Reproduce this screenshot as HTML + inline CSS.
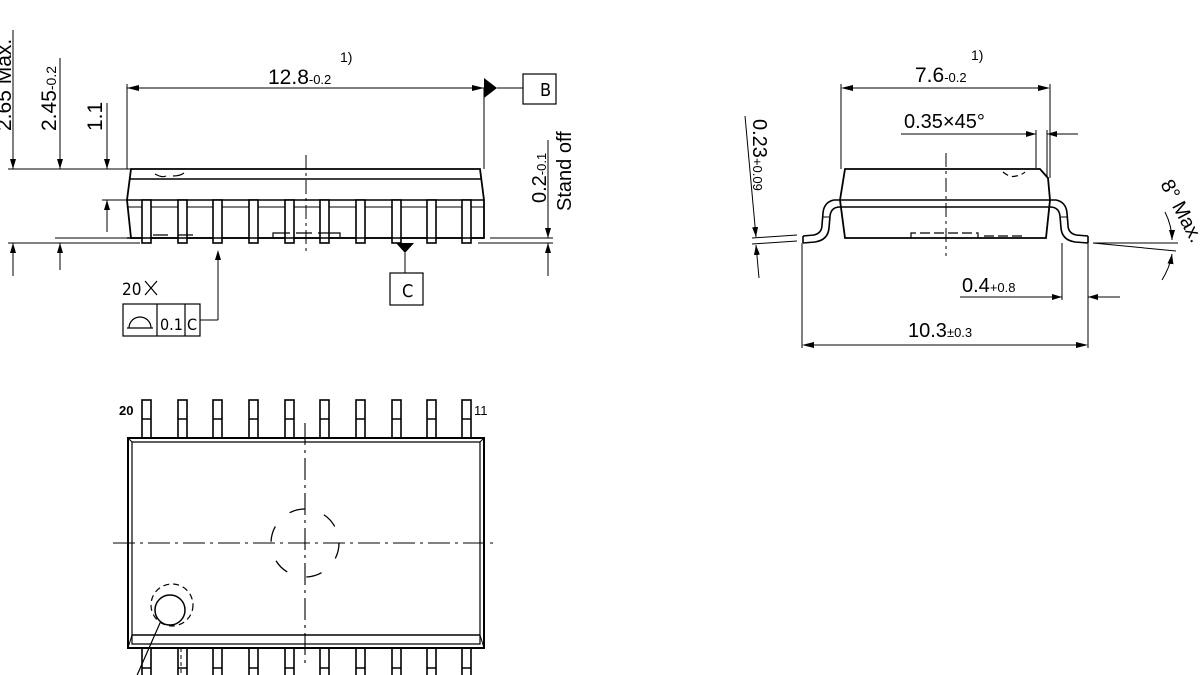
<!DOCTYPE html>
<html><head><meta charset="utf-8"><style>
html,body{margin:0;padding:0;background:#fff;}
svg{display:block;}
text{font-family:"Liberation Sans",Arial,sans-serif;fill:#000;}
.n{font-family:"DejaVu Sans Condensed","Liberation Sans Narrow","Liberation Sans",sans-serif;}
</style></head><body>
<svg width="1200" height="675" viewBox="0 0 1200 675" xmlns="http://www.w3.org/2000/svg">
<defs>
<marker id="a" viewBox="0 0 10 6" refX="10" refY="3" markerWidth="10" markerHeight="6" markerUnits="userSpaceOnUse" orient="auto"><path d="M0,0 L10,3 L0,6 Z" fill="#000"/></marker>
</defs>
<g stroke="#000" stroke-width="1.3" fill="none">
<!-- ===== LEFT SIDE VIEW ===== -->
<path d="M131,169 L480,169 L484,200 L484,238 L131,238 L127,200 Z" stroke-width="1.8"/>
<line x1="129" y1="179" x2="482" y2="179" stroke-width="1.6"/>
<line x1="127" y1="200" x2="484" y2="200" stroke-width="1.6"/>
<line x1="127" y1="207" x2="484" y2="207" stroke-width="1"/>
<g stroke-width="1.6">
<rect x="142" y="200" width="9" height="43" fill="#fff"/>
<rect x="178" y="200" width="9" height="43" fill="#fff"/>
<rect x="213" y="200" width="9" height="43" fill="#fff"/>
<rect x="249" y="200" width="9" height="43" fill="#fff"/>
<rect x="285" y="200" width="9" height="43" fill="#fff"/>
<rect x="320" y="200" width="9" height="43" fill="#fff"/>
<rect x="356" y="200" width="9" height="43" fill="#fff"/>
<rect x="392" y="200" width="9" height="43" fill="#fff"/>
<rect x="427" y="200" width="9" height="43" fill="#fff"/>
<rect x="462" y="200" width="9" height="43" fill="#fff"/>
</g>
<line x1="127" y1="238" x2="484" y2="238" stroke-width="1.6"/>
<path d="M153,235 H168 M178,235 H193 M273,237 V233 H290 M296,233 H312 M318,233 H340 V237" stroke-width="1.2"/>
<path d="M155,174 Q162,178 166,176 M173,176 Q180,176 184,173" stroke-width="1.2"/>
<line x1="306" y1="155" x2="306" y2="252" stroke-width="1" stroke-dasharray="14,4,3,4"/>
<!-- 12.8 dim -->
<line x1="127" y1="84" x2="127" y2="169" stroke-width="1"/>
<line x1="484" y1="88" x2="484" y2="169" stroke-width="1"/>
<line x1="127" y1="88" x2="484" y2="88" stroke-width="1"/>
<path d="M127,88 l12,-3 v6 z M484,88 l-12,-3 v6 z" fill="#000" stroke="none"/>
<path d="M484,78 L497,88 L484,98 Z" fill="#000" stroke="none"/>
<line x1="497" y1="88" x2="523" y2="88" stroke-width="1"/>
<rect x="523" y="74" width="33" height="30" stroke-width="1.2"/>
<!-- left dims -->
<line x1="8" y1="169" x2="130" y2="169" stroke-width="1"/>
<line x1="8" y1="243" x2="140" y2="243" stroke-width="1"/>
<line x1="55" y1="238" x2="135" y2="238" stroke-width="1"/>
<line x1="102" y1="200" x2="127" y2="200" stroke-width="1"/>
<line x1="13" y1="30" x2="13" y2="169" stroke-width="1" marker-end="url(#a)"/>
<line x1="13" y1="276" x2="13" y2="243" stroke-width="1" marker-end="url(#a)"/>
<line x1="60" y1="58" x2="60" y2="169" stroke-width="1" marker-end="url(#a)"/>
<line x1="60" y1="270" x2="60" y2="243" stroke-width="1" marker-end="url(#a)"/>
<line x1="107" y1="103" x2="107" y2="169" stroke-width="1" marker-end="url(#a)"/>
<line x1="107" y1="232" x2="107" y2="200" stroke-width="1" marker-end="url(#a)"/>
<!-- stand off -->
<line x1="490" y1="238" x2="553" y2="238" stroke-width="1"/>
<line x1="478" y1="243" x2="553" y2="243" stroke-width="1"/>
<line x1="548" y1="140" x2="548" y2="238" stroke-width="1" marker-end="url(#a)"/>
<line x1="548" y1="276" x2="548" y2="243" stroke-width="1" marker-end="url(#a)"/>
<!-- datum C -->
<path d="M396,243 L414,243 L405,253 Z" fill="#000" stroke="none"/>
<line x1="405" y1="253" x2="405" y2="273" stroke-width="1"/>
<rect x="390" y="273" width="33" height="32" stroke-width="1.2"/>
<!-- FCF -->
<line x1="218" y1="252" x2="218" y2="320" stroke-width="1"/>
<path d="M218,250 l-3,10 h6 z" fill="#000" stroke="none"/>
<line x1="200" y1="320" x2="218" y2="320" stroke-width="1"/>
<rect x="123" y="304" width="77" height="32" stroke-width="1.2"/>
<line x1="157" y1="304" x2="157" y2="336" stroke-width="1.2"/>
<line x1="185" y1="304" x2="185" y2="336" stroke-width="1.2"/>
<path d="M127,328 H153 M129,328 A11,11 0 0 1 151,328" stroke-width="1.2"/>
<path d="M145,281 L157,295 M157,281 L145,295" stroke-width="1.2"/>

<!-- ===== RIGHT END VIEW ===== -->
<path d="M845,169 L1040,169 L1048,178 L1050,200 L1046,238 L845,238 L840,200 Z" stroke-width="1.8"/>
<path d="M803,236 L814,235 Q822,233 822,225 L823,213 Q824,202 834,200 L1056,200 Q1066,202 1067,213 L1068,225 Q1068,233 1076,235 L1088,236" stroke-width="1.6"/>
<path d="M803,243 L815,242 Q828,240 829,228 L830,216 Q831,207 840,207 L1050,207 Q1059,207 1060,216 L1061,228 Q1062,240 1075,242 L1088,243" stroke-width="1.6"/>
<line x1="803" y1="236" x2="803" y2="243" stroke-width="1.6"/>
<line x1="1088" y1="236" x2="1088" y2="243" stroke-width="1.6"/>
<line x1="822" y1="217" x2="829" y2="217" stroke-width="1"/>
<line x1="1061" y1="217" x2="1068" y2="217" stroke-width="1"/>
<path d="M911,238 V233 H978 V238 M984,236 H1026" stroke-width="1.2" stroke-dasharray="10,4"/>
<path d="M1003,172 Q1010,178 1016,176 Q1022,175 1025,172" stroke-width="1.2" stroke-dasharray="6,4"/>
<line x1="946" y1="153" x2="946" y2="256" stroke-width="1" stroke-dasharray="14,4,3,4"/>
<!-- 7.6 -->
<line x1="841" y1="84" x2="841" y2="169" stroke-width="1"/>
<line x1="1050" y1="84" x2="1050" y2="178" stroke-width="1"/>
<line x1="853" y1="88" x2="1038" y2="88" stroke-width="1"/>
<path d="M841,88 l12,-3 v6 z M1050,88 l-12,-3 v6 z" fill="#000" stroke="none"/>
<!-- 0.35x45 -->
<line x1="1036" y1="130" x2="1036" y2="168" stroke-width="1"/>
<line x1="1047" y1="130" x2="1047" y2="176" stroke-width="1"/>
<line x1="901" y1="134" x2="1036" y2="134" stroke-width="1" marker-end="url(#a)"/>
<line x1="1078" y1="134" x2="1047" y2="134" stroke-width="1" marker-end="url(#a)"/>
<!-- 0.23 -->
<line x1="752" y1="238" x2="797" y2="235" stroke-width="1"/>
<line x1="752" y1="244" x2="797" y2="241" stroke-width="1"/>
<line x1="745" y1="116" x2="756" y2="237" stroke-width="1" marker-end="url(#a)"/>
<line x1="759" y1="278" x2="756" y2="245" stroke-width="1" marker-end="url(#a)"/>
<!-- 8 deg -->
<line x1="1093" y1="243" x2="1178" y2="243" stroke-width="1"/>
<line x1="1093" y1="243" x2="1176" y2="251" stroke-width="1"/>
<path d="M1165,212 Q1172,226 1172,240" stroke-width="1" marker-end="url(#a)"/>
<path d="M1162,280 Q1170,267 1172,254" stroke-width="1" marker-end="url(#a)"/>
<!-- 0.4 -->
<line x1="1062" y1="243" x2="1062" y2="300" stroke-width="1"/>
<line x1="1088" y1="243" x2="1088" y2="348" stroke-width="1"/>
<line x1="960" y1="297" x2="1062" y2="297" stroke-width="1" marker-end="url(#a)"/>
<line x1="1120" y1="297" x2="1088" y2="297" stroke-width="1" marker-end="url(#a)"/>
<!-- 10.3 -->
<line x1="802" y1="243" x2="802" y2="348" stroke-width="1"/>
<line x1="814" y1="345" x2="1076" y2="345" stroke-width="1"/>
<path d="M802,345 l12,-3 v6 z M1088,345 l-12,-3 v6 z" fill="#000" stroke="none"/>

<!-- ===== BOTTOM VIEW ===== -->
<g stroke-width="1.6" fill="#fff">
<rect x="142" y="400" width="9" height="38"/><rect x="178" y="400" width="9" height="38"/><rect x="213" y="400" width="9" height="38"/><rect x="249" y="400" width="9" height="38"/><rect x="285" y="400" width="9" height="38"/><rect x="320" y="400" width="9" height="38"/><rect x="356" y="400" width="9" height="38"/><rect x="392" y="400" width="9" height="38"/><rect x="427" y="400" width="9" height="38"/><rect x="462" y="400" width="9" height="38"/>
<rect x="142" y="648" width="9" height="40"/><rect x="178" y="648" width="9" height="40"/><rect x="213" y="648" width="9" height="40"/><rect x="249" y="648" width="9" height="40"/><rect x="285" y="648" width="9" height="40"/><rect x="320" y="648" width="9" height="40"/><rect x="356" y="648" width="9" height="40"/><rect x="392" y="648" width="9" height="40"/><rect x="427" y="648" width="9" height="40"/><rect x="462" y="648" width="9" height="40"/>
</g>
<path d="M142,419h9M178,419h9M213,419h9M249,419h9M285,419h9M320,419h9M356,419h9M392,419h9M427,419h9M462,419h9 M142,668h9M178,668h9M213,668h9M249,668h9M285,668h9M320,668h9M356,668h9M392,668h9M427,668h9M462,668h9" stroke-width="1.4"/>
<rect x="128" y="438" width="356" height="210" stroke-width="2"/>
<path d="M132,442 H480 V644 H132 Z" stroke-width="1.2"/>
<line x1="132" y1="635" x2="480" y2="635" stroke-width="1.6"/>
<path d="M128,438 L132,442 M484,438 L480,442 M128,648 L132,635 M484,648 L480,635" stroke-width="1"/>
<line x1="113" y1="543" x2="498" y2="543" stroke-width="1.1" stroke-dasharray="22,5,3,5"/>
<line x1="305" y1="423" x2="305" y2="663" stroke-width="1.1" stroke-dasharray="22,5,3,5"/>
<circle cx="305" cy="543" r="34" stroke-width="1.3" stroke-dasharray="16,20"/>
<circle cx="170" cy="610" r="15" stroke-width="1.5"/>
<circle cx="172" cy="605" r="21" stroke-width="1.2" stroke-dasharray="6,4"/>
<line x1="160" y1="623" x2="135" y2="680" stroke-width="1.2"/>
<line x1="181" y1="648" x2="181" y2="675" stroke-width="1" stroke-dasharray="4,3"/>
</g>

<!-- ===== TEXT ===== -->
<text x="268" y="84" font-size="21">12.8<tspan font-size="13">-0.2</tspan></text>
<text x="340" y="62" font-size="14">1)</text>
<text class="n" x="540" y="96" font-size="18">B</text>
<text class="n" x="402" y="297" font-size="18">C</text>
<text class="n" x="122" y="295" font-size="17">20</text>
<text class="n" x="160" y="330" font-size="16">0.1</text>
<text class="n" x="187" y="330" font-size="16">C</text>
<text transform="translate(11,131) rotate(-90)" font-size="21">2.65 Max.</text>
<text transform="translate(56,131) rotate(-90)" font-size="21">2.45<tspan font-size="14">-0.2</tspan></text>
<text transform="translate(102,131) rotate(-90)" font-size="21">1.1</text>
<text transform="translate(546,203) rotate(-90)" font-size="20">0.2<tspan font-size="13">-0.1</tspan></text>
<text transform="translate(571,211) rotate(-90)" font-size="20">Stand off</text>

<text x="915" y="82" font-size="21">7.6<tspan font-size="13">-0.2</tspan></text>
<text x="971" y="60" font-size="14">1)</text>
<text x="904" y="128" font-size="20">0.35×45°</text>
<text transform="translate(753,119) rotate(90)" font-size="20">0.23<tspan font-size="13">+0.09</tspan></text>
<text transform="translate(1160,184) rotate(62)" font-size="20">8° Max.</text>
<text x="962" y="292" font-size="20">0.4<tspan font-size="13">+0.8</tspan></text>
<text x="908" y="337" font-size="20">10.3<tspan font-size="13">±0.3</tspan></text>

<text x="119" y="415" font-size="13" font-weight="bold">20</text>
<text x="474" y="415" font-size="13">11</text>
<text x="-2" y="690" font-size="20">Index Marking</text>
</svg>
</body></html>
